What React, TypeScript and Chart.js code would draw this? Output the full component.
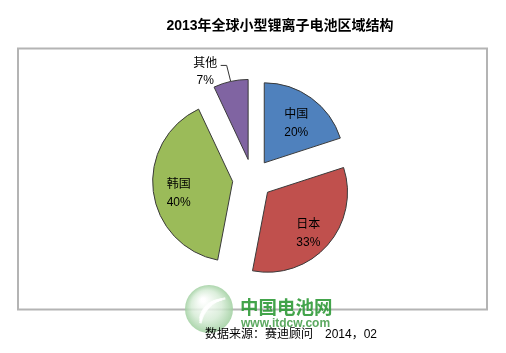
import React, { useEffect, useRef } from 'react';
import { Chart, ArcElement, PieController } from 'chart.js';

const categories = ['中国', '日本', '韩国', '其他'];
const shares = [20, 33, 40, 7];
const titleText = '2013年全球小型锂离子电池区域结构';
const sourceText = '数据来源：赛迪顾问';
const sourceDate = '2014，02';
const logoName = '中国电池网';
const logoUrl = 'www.itdcw.com';

const EXPLODE = 20;
const SLICE_COLORS = ['#4F81BD', '#C0504D', '#9BBB59', '#8064A2'];
const LATIN_CJK = '"Liberation Sans", "Noto Sans CJK SC", sans-serif';

class ExplodedArc extends ArcElement {
  static id = 'explodedArc';
  draw(ctx: CanvasRenderingContext2D) {
    const self: any = this;
    const mid = (self.startAngle + self.endAngle) / 2;
    ctx.save();
    ctx.translate(Math.cos(mid) * EXPLODE, Math.sin(mid) * EXPLODE);
    super.draw(ctx);
    ctx.restore();
  }
}

class ExplodedPieController extends PieController {
  static id = 'explodedPie';
  static defaults = { dataElementType: 'explodedArc' };
}

Chart.register(ArcElement, ExplodedArc, PieController, ExplodedPieController as any);

const decorPlugin = {
  id: 'decor',
  beforeDatasetsDraw(chart: any) {
    const ctx: CanvasRenderingContext2D = chart.ctx;
    ctx.save();
    // title
    ctx.fillStyle = '#000';
    ctx.font = `bold 14px ${LATIN_CJK}`;
    ctx.textAlign = 'center';
    ctx.textBaseline = 'middle';
    ctx.fillText(titleText, 280, 26);
    // frame
    ctx.strokeStyle = '#B4B4B4';
    ctx.lineWidth = 2;
    ctx.strokeRect(18, 48.5, 469, 261);
    // logo watermark
    ctx.globalAlpha = 0.85;
    const g = ctx.createRadialGradient(203, 300, 2, 209, 309, 24);
    g.addColorStop(0, '#ffffff');
    g.addColorStop(0.6, '#d6ecd6');
    g.addColorStop(1, '#9fcf9f');
    ctx.fillStyle = g;
    ctx.beginPath();
    ctx.arc(209, 309, 24, 0, Math.PI * 2);
    ctx.fill();
    ctx.strokeStyle = '#ffffff';
    ctx.lineWidth = 2.5;
    for (let k = 0; k < 3; k++) {
      ctx.beginPath();
      ctx.arc(222 + k * 4, 322 + k * 3, 22 + k * 4, Math.PI * 1.05, Math.PI * 1.45);
      ctx.stroke();
    }
    ctx.globalAlpha = 0.9;
    ctx.fillStyle = '#2f9a37';
    ctx.font = `bold 18.5px "Noto Sans CJK SC", sans-serif`;
    ctx.textAlign = 'left';
    ctx.fillText(logoName, 240, 307);
    ctx.fillStyle = '#4aa04f';
    ctx.font = `bold 12px "Liberation Sans", sans-serif`;
    ctx.fillText(logoUrl, 241, 324);
    ctx.globalAlpha = 1;
    // source
    ctx.fillStyle = '#000';
    ctx.font = `12px ${LATIN_CJK}`;
    ctx.fillText(sourceText, 205, 335);
    ctx.fillText(sourceDate, 325, 335);
    ctx.restore();
  },
  afterDatasetsDraw(chart: any) {
    const ctx: CanvasRenderingContext2D = chart.ctx;
    const meta = chart.getDatasetMeta(0);
    ctx.save();
    ctx.fillStyle = '#000';
    ctx.font = `12px ${LATIN_CJK}`;
    ctx.textAlign = 'center';
    ctx.textBaseline = 'middle';
    meta.data.forEach((arc: any, i: number) => {
      const p = arc.getProps(['x', 'y', 'startAngle', 'endAngle', 'outerRadius'], true);
      const mid = (p.startAngle + p.endAngle) / 2;
      const cx = p.x + Math.cos(mid) * EXPLODE;
      const cy = p.y + Math.sin(mid) * EXPLODE;
      const name = categories[i];
      const pct = `${shares[i]}%`;
      if (shares[i] < 10) {
        const ox = cx + Math.cos(mid) * p.outerRadius;
        const oy = cy + Math.sin(mid) * p.outerRadius;
        ctx.strokeStyle = '#333';
        ctx.lineWidth = 1;
        ctx.beginPath();
        ctx.moveTo(ox, oy);
        ctx.lineTo(ox - 4, oy - 16);
        ctx.lineTo(ox - 10, oy - 16);
        ctx.stroke();
        ctx.fillText(name, ox - 25.5, oy - 17.5);
        ctx.fillText(pct, ox - 25.5, oy - 0.5);
      } else {
        const r = p.outerRadius * 0.68;
        const lx = cx + Math.cos(mid) * r;
        const ly = cy + Math.sin(mid) * r + 5;
        ctx.fillText(name, lx, ly - 9);
        ctx.fillText(pct, lx, ly + 9);
      }
    });
    ctx.restore();
  },
};

export default function App() {
  const ref = useRef<HTMLCanvasElement>(null);
  useEffect(() => {
    if (!ref.current) return;
    const chart = new Chart(ref.current, {
      type: 'explodedPie' as any,
      data: {
        labels: categories,
        datasets: [
          {
            data: shares,
            backgroundColor: SLICE_COLORS,
            borderColor: '#3a3a3a',
            borderWidth: 1,
          },
        ],
      },
      options: {
        responsive: false,
        animation: false,
        devicePixelRatio: 1,
        radius: 80,
        layout: { padding: { left: 0, right: 1, top: 5, bottom: 0 } },
        plugins: { legend: { display: false }, tooltip: { enabled: false } },
        events: [],
      } as any,
      plugins: [decorPlugin],
    });
    return () => chart.destroy();
  }, []);
  return (
    <div style={{ position: 'fixed', left: 0, top: 0, width: 506, height: 353, background: '#fff' }}>
      <canvas ref={ref} width={506} height={353} style={{ display: 'block' }} />
    </div>
  );
}
